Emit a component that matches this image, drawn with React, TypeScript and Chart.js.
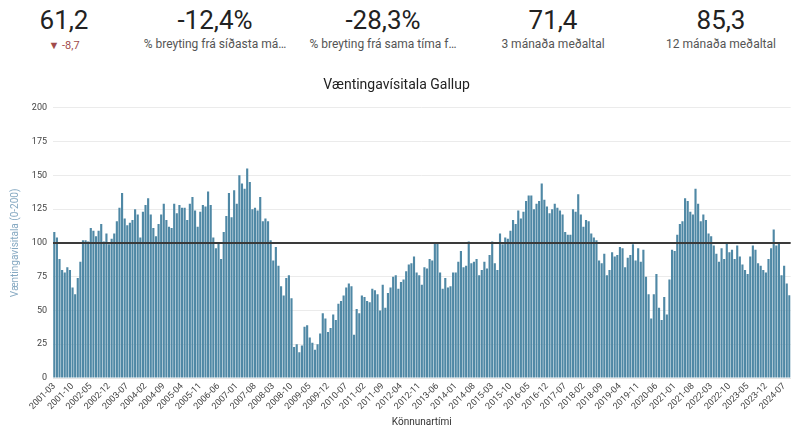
import React, { useEffect, useRef } from 'react';
import { Chart, registerables } from 'chart.js';

Chart.register(...registerables);

// ---- data (monthly, starting 2001-03) ----
const START_YEAR = 2001;
const START_MONTH = 3;

const v2001 = [108, 104, 88, 80, 78, 82, 80, 67, 62, 74];
const v2002 = [86, 102, 102, 101, 111, 109, 105, 109, 114, 101, 107, 99];
const v2003 = [103, 107, 116, 126, 137, 118, 113, 115, 117, 125, 121, 104];
const v2004 = [123, 128, 133, 121, 111, 105, 114, 121, 129, 117, 112, 111];
const v2005 = [129, 122, 128, 126, 126, 117, 129, 134, 124, 112, 123, 128];
const v2006 = [127, 138, 128, 104, 96, 100, 88, 108, 120, 137, 119, 139];
const v2007 = [129, 150, 144, 140, 155, 145, 125, 126, 124, 134, 116, 118];
const v2008 = [116, 102, 87, 97, 83, 68, 61, 74, 76, 59, 23, 25];
const v2009 = [19, 24, 38, 39, 30, 26, 21, 25, 33, 48, 44, 34];
const v2010 = [37, 47, 43, 55, 57, 61, 67, 70, 68, 32, 51, 48];
const v2011 = [61, 60, 57, 56, 66, 65, 62, 50, 69, 52, 63, 67];
const v2012 = [75, 76, 66, 71, 73, 79, 84, 85, 90, 78, 76, 69];
const v2013 = [82, 81, 88, 87, 100, 100, 78, 66, 74, 67, 68, 78];
const v2014 = [78, 86, 94, 82, 83, 101, 85, 86, 88, 76, 80, 86];
const v2015 = [81, 91, 101, 85, 80, 107, 99, 104, 103, 109, 117, 114];
const v2016 = [124, 118, 123, 131, 135, 135, 125, 129, 131, 144, 132, 127];
const v2017 = [122, 125, 129, 126, 124, 121, 108, 106, 106, 125, 123, 136];
const v2018 = [121, 112, 117, 116, 107, 104, 102, 87, 85, 92, 76, 80];
const v2019 = [93, 90, 91, 97, 96, 82, 89, 91, 99, 87, 96, 86];
const v2020 = [95, 75, 62, 44, 62, 77, 52, 43, 60, 47, 73, 95];
const v2021 = [94, 106, 114, 116, 133, 131, 123, 121, 140, 129, 116, 121];
const v2022 = [117, 107, 105, 98, 92, 86, 96, 88, 100, 93, 95, 88];
const v2023 = [98, 90, 84, 80, 77, 90, 98, 95, 85, 83, 80, 78];
const v2024 = [88, 96, 110, 98, 100, 76, 83.1, 69.9, 61.2];

const values: number[] = [
  ...v2001, ...v2002, ...v2003, ...v2004, ...v2005, ...v2006, ...v2007, ...v2008,
  ...v2009, ...v2010, ...v2011, ...v2012, ...v2013, ...v2014, ...v2015, ...v2016,
  ...v2017, ...v2018, ...v2019, ...v2020, ...v2021, ...v2022, ...v2023, ...v2024,
];

const months: string[] = values.map((_, i) => {
  const m = START_MONTH - 1 + i;
  const y = START_YEAR + Math.floor(m / 12);
  const mm = (m % 12) + 1;
  return `${y}-${String(mm).padStart(2, '0')}`;
});

const LABEL_STEP = 7;
const REFERENCE_LEVEL = 100;
const yTicks = [0, 25, 50, 75, 100, 125, 150, 175, 200];

// ---- header KPIs ----
const kpiValues = ['61,2', '-12,4%', '-28,3%', '71,4', '85,3'];
const kpiLabels = ['', '% breyting frá síðasta má…', '% breyting frá sama tíma f…', '3 mánaða meðaltal', '12 mánaða meðaltal'];
const kpiCenters = [64, 215, 383, 553, 721];
const changeText = '▼ -8,7';

const FONT = 'Roboto, "Noto Sans", Arial, sans-serif';

const refLinePlugin = {
  id: 'refLine',
  afterDatasetsDraw(chart: any) {
    const { ctx, chartArea, scales } = chart;
    const y = scales.y.getPixelForValue(REFERENCE_LEVEL);
    ctx.save();
    ctx.strokeStyle = '#3a3a3a';
    ctx.lineWidth = 2;
    ctx.beginPath();
    ctx.moveTo(chartArea.left, y);
    ctx.lineTo(chartArea.right, y);
    ctx.stroke();
    ctx.restore();
  },
};

export default function App() {
  const canvasRef = useRef<HTMLCanvasElement | null>(null);

  useEffect(() => {
    if (!canvasRef.current) return;
    Chart.defaults.font.family = FONT;
    const chart = new Chart(canvasRef.current, {
      type: 'bar',
      data: {
        labels: months,
        datasets: [
          {
            data: values,
            backgroundColor: '#4f88a5',
            borderWidth: 0,
            barPercentage: 0.82,
            categoryPercentage: 1,
          },
        ],
      },
      options: {
        animation: false,
        responsive: false,
        maintainAspectRatio: false,
        layout: { padding: { left: 0, right: 7, top: 0, bottom: 0 } },
        plugins: {
          legend: { display: false },
          tooltip: { enabled: false },
          title: {
            display: true,
            text: 'Væntingavísitala Gallup',
            color: '#222',
            font: { size: 14, weight: 'normal', family: FONT },
            padding: { top: 7, bottom: 14 },
          },
        },
        scales: {
          x: {
            type: 'category',
            offset: true,
            grid: { display: false, drawTicks: false },
            border: { display: true, color: '#e6e6e6' },
            ticks: {
              autoSkip: false,
              maxRotation: 45,
              minRotation: 45,
              padding: 3,
              color: '#444',
              font: { size: 9, family: FONT },
              callback: function (this: any, value: any, index: number) {
                return index % LABEL_STEP === 0 ? months[index] : '';
              },
            },
            title: {
              display: true,
              text: 'Könnunartími',
              color: '#333',
              font: { size: 10, family: FONT },
              padding: { top: 0, bottom: 2 },
            },
            afterFit: (scale: any) => {
              scale.height = 52;
            },
          },
          y: {
            min: 0,
            max: 200,
            afterBuildTicks: (scale: any) => {
              scale.ticks = yTicks.map((v) => ({ value: v }));
            },
            grid: { color: '#ebebeb', drawTicks: false },
            border: { display: false },
            ticks: {
              color: '#444',
              padding: 6,
              font: { size: 9, family: FONT },
            },
            title: {
              display: true,
              text: 'Væntingavísitala (0-200)',
              color: '#86a9c2',
              font: { size: 10, family: FONT },
              padding: { top: 9, bottom: 0 },
            },
            afterFit: (scale: any) => {
              scale.width = 53;
            },
          },
        },
      },
      plugins: [refLinePlugin],
    });
    return () => chart.destroy();
  }, []);

  return (
    <div style={{ position: 'absolute', left: 0, top: 0, width: 800, height: 430, background: '#fff', fontFamily: FONT }}>
      {kpiValues.map((v, i) => (
        <div
          key={'v' + i}
          style={{
            position: 'absolute',
            left: kpiCenters[i] - 85,
            width: 170,
            top: 6.6,
            textAlign: 'center',
            fontSize: 26,
            lineHeight: '26px',
            color: '#222',
            whiteSpace: 'nowrap',
          }}
        >
          {v}
        </div>
      ))}
      {kpiLabels.map((t, i) =>
        t ? (
          <div
            key={'l' + i}
            style={{
              position: 'absolute',
              left: kpiCenters[i] - 85,
              width: 170,
              top: 38.2,
              textAlign: 'center',
              fontSize: 12,
              lineHeight: '12px',
              color: '#555',
              whiteSpace: 'nowrap',
            }}
          >
            {t}
          </div>
        ) : null
      )}
      <div
        style={{
          position: 'absolute',
          left: kpiCenters[0] - 85,
          width: 170,
          top: 39.5,
          textAlign: 'center',
          fontSize: 11,
          lineHeight: '11px',
          color: '#a14b4b',
          whiteSpace: 'nowrap',
        }}
      >
        {changeText}
      </div>
      <canvas ref={canvasRef} width={800} height={360} style={{ position: 'absolute', left: 0, top: 70, width: 800, height: 360 }} />
    </div>
  );
}
